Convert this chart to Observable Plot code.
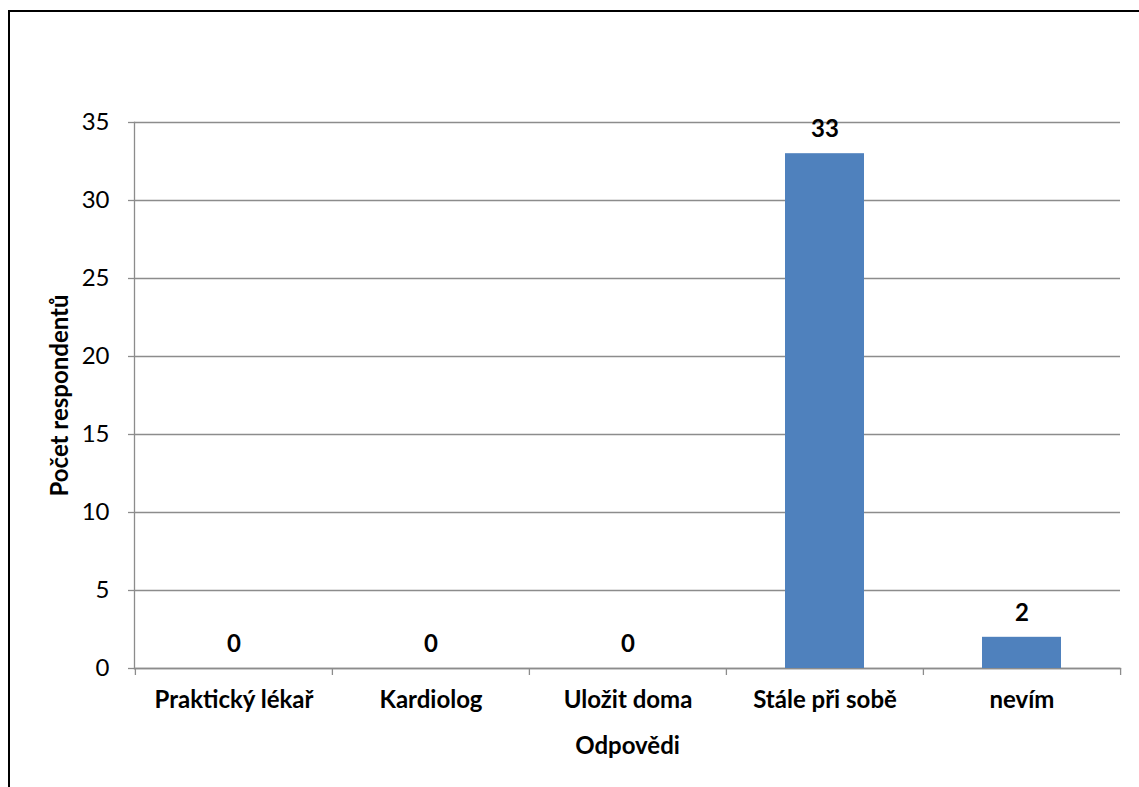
<!DOCTYPE html>
<html>
<head>
<meta charset="utf-8">
<script src="https://cdn.jsdelivr.net/npm/d3@7"></script>
<script src="https://cdn.jsdelivr.net/npm/@observablehq/plot@0.6"></script>
<style>
  html, body { margin: 0; padding: 0; background: #fff; overflow: hidden; }
  #wrap { position: relative; width: 1139px; height: 787px; overflow: hidden; }
  #border { position: absolute; left: 8px; top: 10px; width: 1300px; height: 1000px;
            border: 2px solid #000; box-sizing: border-box; pointer-events: none; }
  #chart { position: absolute; left: 0; top: 0; }
  svg text { font-family: Lato, "Open Sans", sans-serif; }
</style>
</head>
<body>
<div id="wrap">
  <div id="chart"></div>
  <div id="border"></div>
</div>
<script>
// Answers and respondent counts
const categories = ["Praktický lékař", "Kardiolog", "Uložit doma", "Stále při sobě", "nevím"];
const counts = [0, 0, 0, 33, 2];
const yTicks = [0, 5, 10, 15, 20, 25, 30, 35];
const xTitle = "Odpovědi";
const yTitle = "Počet respondentů";

const data = categories.map((c, i) => ({answer: c, count: counts[i]}));

const W = 1139, H = 787;
const mL = 134, mR = 19, mT = 122, mB = 119;
const step = (W - mL - mR) / categories.length;
const grid = "#8c8c8c";
const fs = 24;

const chart = Plot.plot({
  width: W,
  height: H,
  marginLeft: mL,
  marginRight: mR,
  marginTop: mT,
  marginBottom: mB,
  style: {fontFamily: "Lato, 'Open Sans', sans-serif", fontSize: fs + "px", color: "#000", background: "#fff"},
  x: {domain: categories, paddingInner: 0.6, paddingOuter: 0.3},
  y: {domain: [0, 35]},
  marks: [
    Plot.gridY(yTicks, {stroke: grid, strokeOpacity: 1, strokeWidth: 1.3}),
    Plot.axisY(yTicks, {
      tickSize: 6, tickPadding: 19, stroke: grid, strokeWidth: 1.3,
      fontSize: fs, label: yTitle, labelAnchor: "center", labelOffset: 84,
      labelArrow: "none"
    }),
    Plot.axisX({
      tickSize: 0, tickPadding: 22, fontSize: fs, fontWeight: "bold",
      label: xTitle, labelAnchor: "center", labelOffset: 85, labelArrow: "none"
    }),
    Plot.frame({anchor: "left", stroke: grid, strokeWidth: 1.3}),
    Plot.frame({anchor: "bottom", stroke: grid, strokeWidth: 1.3}),
    // category boundary ticks under the x axis
    Plot.ruleX(categories, {x: d => d, y1: 0, y2: 0, insetBottom: -7, dx: -step / 2, stroke: grid, strokeWidth: 1.3}),
    Plot.ruleX(categories.slice(-1), {x: d => d, y1: 0, y2: 0, insetBottom: -7, dx: step / 2, stroke: grid, strokeWidth: 1.3}),
    Plot.barY(data, {x: "answer", y: "count", fill: "#4f81bd"}),
    Plot.text(data, {x: "answer", y: "count", text: d => String(d.count), dy: -24,
                     fontSize: fs, fontWeight: "bold", fill: "#000"})
  ]
});

// bold axis titles
chart.querySelectorAll("[aria-label='x-axis label'] text, [aria-label='y-axis label'] text")
  .forEach(t => t.setAttribute("font-weight", "bold"));

document.getElementById("chart").appendChild(chart);
</script>
</body>
</html>
